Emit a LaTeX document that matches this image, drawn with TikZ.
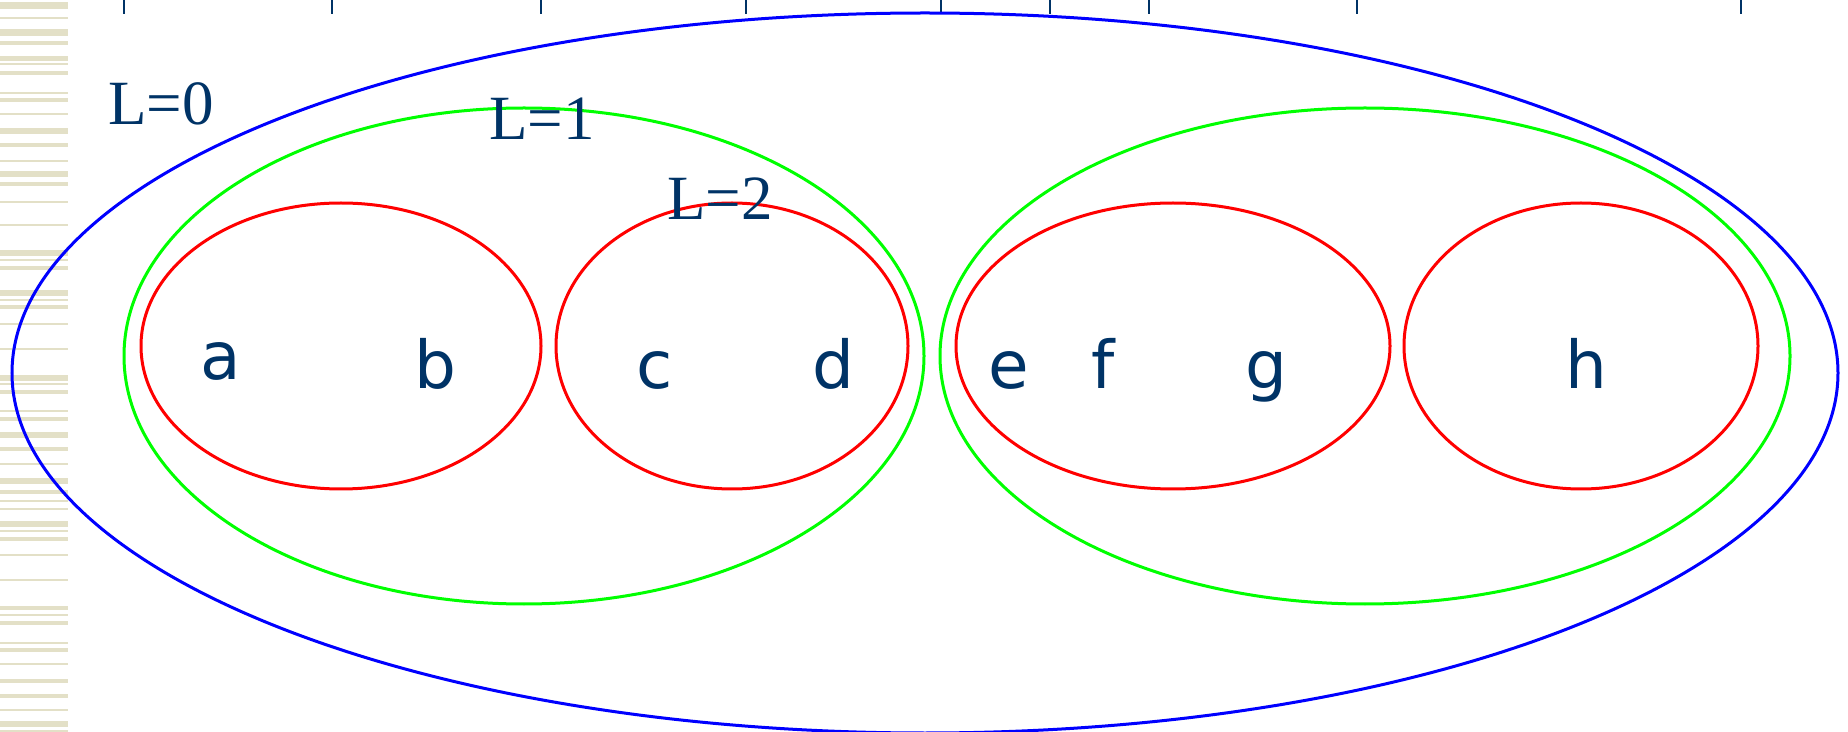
\documentclass[tikz,border=0pt]{standalone}
\usepackage{fontspec}
\setmainfont{Liberation Serif}
\newfontfamily\leaffont{DejaVu Sans}
\definecolor{InkNavy}{RGB}{0,51,102}
\definecolor{StripeBeige}{RGB}{227,224,199}
\usepackage{tikz}
\usetikzlibrary{positioning}

\tikzset{
  level/.style={font=\fontsize{31.5}{36}\selectfont\color{InkNavy}, inner sep=0pt, anchor=base},
  leaf/.style={font=\leaffont\fontsize{33}{38}\selectfont\color{InkNavy}, inner sep=0pt, anchor=base},
  ring/.style={line width=1.5pt}
}

\begin{document}
\begin{tikzpicture}[x=0.5pt, y=-0.5pt]
\useasboundingbox (0,0) rectangle (1848,732);
% striped margin on the left
\foreach \yy/\hh in {2/7,17/2,29/7,41/4,56/5,63/2,71/4,92/2,98/4,113/2,128/6,143/4,160/2,171/6,182/4,
                     201/2,224/2,250/6,259/2,266/4,290/6,299/2,305/4,323/2,348/2,375/6,383/2,390/4,410/2,
                     417/4,432/6,447/4,463/2,478/6,490/4,500/2,508/2,521/6,530/2,537/4,554/2,579/2,606/4,
                     614/2,621/4,642/2,648/4,663/2,679/4,694/4,709/2,721/6,730/2}
  \fill[StripeBeige] (0,\yy) rectangle (68,\yy+\hh);
% ruler ticks
\foreach \tx in {124,332,541,746,941,1050,1149,1357,1741}
  \draw[InkNavy, line width=0.9pt] (\tx,0) -- (\tx,14);

% levels
\draw[ring, blue] (925,373) ellipse [x radius=913, y radius=360];
\draw[ring, green] (524,356) ellipse [x radius=400, y radius=248];
\draw[ring, green] (1365,356) ellipse [x radius=425, y radius=248];
\draw[ring, red] (341,346) ellipse [x radius=200, y radius=143];
\draw[ring, red] (732,346) ellipse [x radius=176, y radius=143];
\draw[ring, red] (1173,346) ellipse [x radius=217, y radius=143];
\draw[ring, red] (1581,346) ellipse [x radius=177, y radius=143];

\node[level] (lzero) at (161,125) {L=0};
\node[level] (lone) at (542,140) {L=1};
\node[level] (ltwo) at (720,220) {L=2};

\node[leaf] (a) at (221,380) {a};
\node[leaf] (b) at (435,389) {b};
\node[leaf] (c) at (655,389) {c};
\node[leaf] (d) at (833,389) {d};
\node[leaf] (e) at (1009,389) {e};
\node[leaf] (f) at (1103,389) {f};
\node[leaf] (g) at (1266,389) {g};
\node[leaf] (h) at (1586,389) {h};
\end{tikzpicture}
\end{document}
